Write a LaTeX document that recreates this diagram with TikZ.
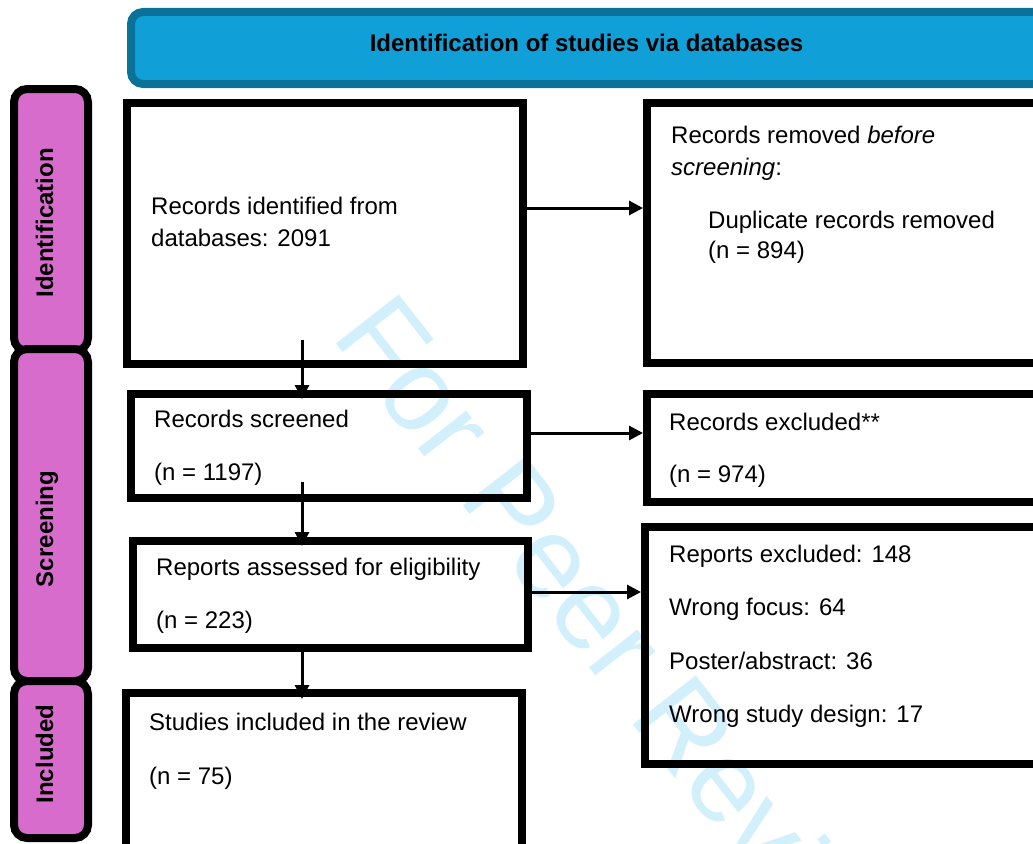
\documentclass[tikz,border=0pt]{standalone}
\usepackage{fontspec}
\setmainfont{Liberation Sans}
\usetikzlibrary{arrows.meta}
\definecolor{bannerfill}{RGB}{16,159,214}
\definecolor{bannerline}{RGB}{10,113,153}
\definecolor{phase}{RGB}{216,108,204}
\definecolor{wm}{RGB}{210,239,252}
\begin{document}
\begin{tikzpicture}[x=1pt,y=-1pt,
  box/.style={draw=black, line width=8pt, rectangle, inner sep=0pt, outer sep=0pt},
  phasebar/.style={draw=black, fill=phase, line width=8pt, rectangle, rounded corners=13pt, inner sep=0pt, outer sep=0pt, minimum width=74pt},
  txt/.style={anchor=base west, inner sep=0pt, font=\fontsize{24}{29}\selectfont},
  phasetxt/.style={anchor=base, rotate=90, inner sep=0pt, font=\fontsize{24}{29}\selectfont\bfseries},
  arr/.style={line width=3pt, -{Triangle[length=14pt,width=14pt]}},
]
\useasboundingbox (0,0) rectangle (1033,843);

% watermark
\node[anchor=base west, inner sep=0pt, rotate=-52, text=wm,
      font=\fontsize{116}{136}\selectfont] (wmark) at (330,336) {For Peer Review};

% banner
\node[draw=bannerline, fill=bannerfill, line width=8pt, rectangle, rounded corners=12pt,
      inner sep=0pt, outer sep=0pt, minimum width=919pt, minimum height=72pt] (banner) at (590.5,48) {};
\node[anchor=base, inner sep=0pt, font=\fontsize{24}{29}\selectfont\bfseries] (bannertxt) at (586.5,52)
  {Identification of studies via databases};

% phase bars
\node[phasebar, minimum height=262pt] (pid) at (51,220) {};
\node[phasebar, minimum height=332pt] (psc) at (51,515) {};
\node[phasebar, minimum height=157pt] (pin) at (51,759.5) {};
\node[phasetxt] (pidtxt) at (53,223) {Identification};
\node[phasetxt] (psctxt) at (53,529) {Screening};
\node[phasetxt] (pintxt) at (53,754) {Included};

% left boxes
\node[box, minimum width=396pt, minimum height=261pt] (b1) at (325,233.5) {};
\node[box, minimum width=396pt, minimum height=104pt] (b2) at (329,446) {};
\node[box, minimum width=395pt, minimum height=107pt] (b3) at (330.5,594.5) {};
\node[box, minimum width=396pt, minimum height=163pt] (b4) at (324,774.5) {};

% right boxes
\node[box, minimum width=398pt, minimum height=260pt] (r1) at (846,233) {};
\node[box, minimum width=398pt, minimum height=108pt] (r2) at (846,448) {};
\node[box, minimum width=400pt, minimum height=237pt] (r3) at (845,645.5) {};

% texts
\node[txt] (t1a) at (151,214) {Records identified from};
\node[txt] (t1b) at (151,246) {databases: 2091};
\node[txt] (t2a) at (154,427) {Records screened};
\node[txt] (t2b) at (154,480) {(n = 1197)};
\node[txt] (t3a) at (156,575) {Reports assessed for eligibility};
\node[txt] (t3b) at (156,628) {(n = 223)};
\node[txt] (t4a) at (149,730) {Studies included in the review};
\node[txt] (t4b) at (149,784) {(n = 75)};

\node[txt] (u1a) at (671,143) {Records removed \textit{before}};
\node[txt] (u1b) at (671,175) {\textit{screening}:};
\node[txt] (u1c) at (708,228) {Duplicate records removed};
\node[txt] (u1d) at (708,258) {(n = 894)};
\node[txt] (u2a) at (669,430) {Records excluded**};
\node[txt] (u2b) at (669,482) {(n = 974)};
\node[txt] (u3a) at (669,562) {Reports excluded: 148};
\node[txt] (u3b) at (669,615) {Wrong focus: 64};
\node[txt] (u3c) at (669,669) {Poster/abstract: 36};
\node[txt] (u3d) at (669,722) {Wrong study design: 17};

% connectors
\coordinate (s1) at (302,340);
\coordinate (s2) at (302,482);
\draw[arr, shorten >=-5pt] (s1) -- (s1 |- b2.north);
\draw[arr, shorten >=-5pt] (s2) -- (s2 |- b3.north);
\draw[arr, shorten >=-6pt] (s2 |- b3.south) -- (s2 |- b4.north);

\draw[arr, shorten >=4pt] (b1.east |- 0,208) -- (r1.west |- 0,208);
\draw[arr, shorten >=4pt] (b2.east |- 0,433) -- (r2.west |- 0,433);
\draw[arr, shorten >=4pt] (b3.east |- 0,592) -- (r3.west |- 0,592);
\end{tikzpicture}
\end{document}
